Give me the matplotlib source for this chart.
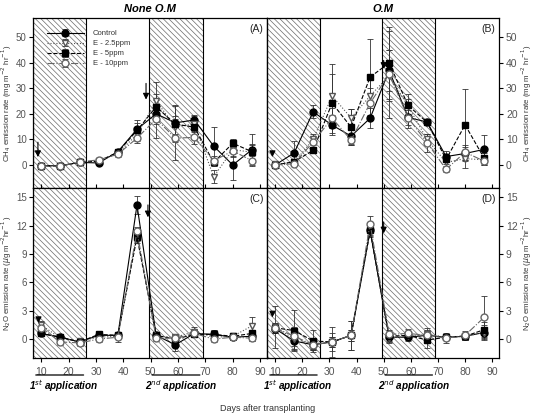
import numpy as np
import matplotlib
matplotlib.use('Agg')
import matplotlib.pyplot as plt

plt.rcParams['font.family'] = ['Liberation Sans', 'DejaVu Sans']
plt.rcParams['hatch.linewidth'] = 0.5

days = [10, 17, 24, 31, 38, 45, 52, 59, 66, 73, 80, 87]
labels = ['Control', 'E - 2.5ppm', 'E - 5ppm', 'E - 10ppm']

# CH4, none O.M (A)
ctrl_A = [-0.3, -0.3, 1.0, 0.8, 5.2, 14.0, 20.0, 16.5, 17.6, 7.4, 0.0, 6.0]
e25_A = [-0.2, -0.3, 1.2, 1.5, 4.5, 12.0, 25.0, 15.0, 16.0, -4.6, 6.0, 5.0]
e5_A = [-0.3, -0.4, 1.1, 1.5, 5.0, 13.5, 22.8, 16.0, 14.8, 1.0, 8.5, 5.2]
e10_A = [-0.5, -0.4, 1.2, 2.0, 4.2, 10.5, 18.0, 10.5, 10.8, 1.7, 5.5, 1.7]
ctrl_A_err = [0.3, 0.3, 0.5, 0.5, 1.0, 3.5, 4.0, 7.0, 2.0, 7.4, 6.0, 6.0]
e25_A_err = [0.3, 0.3, 0.5, 0.5, 1.0, 2.5, 7.5, 3.0, 3.0, 2.5, 3.0, 3.0]
e5_A_err = [0.3, 0.3, 0.5, 0.5, 1.0, 3.0, 5.0, 7.0, 3.0, 1.5, 1.5, 3.0]
e10_A_err = [0.3, 0.3, 0.5, 0.5, 1.0, 2.0, 7.5, 8.5, 2.5, 2.0, 2.0, 2.0]

# CH4, O.M (B)
ctrl_B = [0.0, 4.7, 20.8, 15.6, 11.3, 18.3, 37.0, 18.6, 16.8, 3.3, 4.5, 6.1]
e25_B = [0.2, 1.0, 10.0, 27.0, 18.4, 27.0, 35.0, 23.0, 10.0, 1.0, 2.5, 2.0]
e5_B = [0.0, 1.3, 5.7, 24.2, 14.8, 34.4, 39.9, 23.3, 16.7, 2.2, 15.7, 2.7]
e10_B = [0.0, 0.5, 9.0, 18.3, 9.7, 24.2, 35.5, 18.5, 8.7, -1.7, 5.0, 1.5]
ctrl_B_err = [0.5, 4.5, 2.5, 4.0, 3.0, 4.0, 8.0, 4.0, 1.0, 2.0, 2.5, 5.7]
e25_B_err = [0.5, 1.0, 2.0, 12.5, 3.5, 8.0, 10.0, 3.0, 2.0, 2.0, 3.5, 2.0]
e5_B_err = [0.5, 1.0, 1.0, 11.5, 7.0, 15.0, 14.0, 4.5, 1.0, 2.0, 14.0, 2.0]
e10_B_err = [0.5, 0.8, 2.0, 4.0, 2.0, 6.0, 17.0, 3.0, 3.5, 1.2, 3.0, 1.5]

# N2O, none O.M (C)
ctrl_C = [0.6, 0.2, -0.3, 0.4, 0.4, 14.2, 0.4, -0.6, 0.6, 0.5, 0.2, 0.3]
e25_C = [1.5, 0.1, -0.2, 0.2, 0.3, 11.0, 0.3, 0.2, 0.8, 0.2, 0.3, 1.4]
e5_C = [0.6, 0.2, -0.3, 0.5, 0.4, 10.8, 0.4, 0.0, 0.5, 0.5, 0.3, 0.6]
e10_C = [1.2, -0.3, -0.4, 0.0, 0.2, 11.4, 0.1, 0.1, 0.6, 0.0, 0.2, 0.1]
ctrl_C_err = [0.3, 0.3, 0.3, 0.3, 0.3, 0.9, 0.3, 0.7, 0.4, 0.5, 0.3, 0.5]
e25_C_err = [0.4, 0.3, 0.3, 0.3, 0.3, 0.6, 0.3, 0.3, 0.5, 0.3, 0.3, 0.9]
e5_C_err = [0.3, 0.3, 0.3, 0.3, 0.3, 0.6, 0.3, 0.3, 0.3, 0.5, 0.3, 0.4]
e10_C_err = [0.3, 0.3, 0.3, 0.3, 0.5, 0.5, 0.3, 0.3, 0.3, 0.3, 0.3, 0.3]

# N2O, O.M (D)
ctrl_D = [1.1, -0.2, -0.6, -0.3, 0.4, 11.5, 0.2, 0.2, 0.4, 0.2, 0.3, 0.7]
e25_D = [1.3, 0.0, -0.5, -0.3, 0.4, 11.4, 0.1, 0.3, 0.5, 0.2, 0.3, 0.7]
e5_D = [1.2, 0.9, -0.2, -0.3, 0.4, 11.5, 0.3, 0.4, -0.1, 0.2, 0.3, 1.0]
e10_D = [1.2, 0.3, -0.6, -0.3, 0.4, 12.2, 0.5, 0.6, 0.4, 0.1, 0.4, 2.3]
ctrl_D_err = [0.5, 1.0, 0.5, 0.5, 0.6, 0.6, 0.5, 0.4, 0.5, 0.3, 0.4, 0.6]
e25_D_err = [2.2, 1.0, 0.5, 0.5, 0.6, 0.6, 0.5, 0.4, 0.5, 0.3, 0.4, 0.8]
e5_D_err = [0.5, 2.2, 1.2, 1.0, 1.5, 0.5, 0.5, 0.4, 0.8, 0.3, 0.4, 0.8]
e10_D_err = [0.5, 1.0, 0.5, 1.6, 1.5, 0.8, 0.5, 0.5, 0.8, 0.5, 0.5, 2.3]

hatch_spans = [(7, 26.5), (49.5, 69)]
# application arrows: (day, y_start, y_end) per panel
arrows_A = [(8.8, 10, 2), (48.3, 33, 24.5)]
arrows_B = [(9.0, 6.5, 2), (50.0, 42, 36.5)]
arrows_C = [(9.0, 2.6, 1.4), (49.0, 14.5, 12.6)]
arrows_D = [(9.0, 3.1, 2.0), (50.0, 12.7, 10.9)]

styles = [
    dict(marker='o', mfc='black', mec='black', ls='-', color='black'),
    dict(marker='v', mfc='white', mec='#555555', ls=':', color='#555555'),
    dict(marker='s', mfc='black', mec='black', ls='--', color='black'),
    dict(marker='o', mfc='white', mec='#666666', ls='-.', color='#666666'),
]

fig = plt.figure(figsize=(5.36, 4.15), dpi=100)
W, H = 536, 415
def box(x0, y0, x1, y1):
    return [x0 / W, 1 - y1 / H, (x1 - x0) / W, (y1 - y0) / H]

axA = fig.add_axes(box(33, 18, 267, 188))
axB = fig.add_axes(box(267, 18, 499, 188))
axC = fig.add_axes(box(33, 188, 267, 358))
axD = fig.add_axes(box(267, 188, 499, 358))

panels = [
    (axA, [ctrl_A, e25_A, e5_A, e10_A], [ctrl_A_err, e25_A_err, e5_A_err, e10_A_err], arrows_A, '(A)'),
    (axB, [ctrl_B, e25_B, e5_B, e10_B], [ctrl_B_err, e25_B_err, e5_B_err, e10_B_err], arrows_B, '(B)'),
    (axC, [ctrl_C, e25_C, e5_C, e10_C], [ctrl_C_err, e25_C_err, e5_C_err, e10_C_err], arrows_C, '(C)'),
    (axD, [ctrl_D, e25_D, e5_D, e10_D], [ctrl_D_err, e25_D_err, e5_D_err, e10_D_err], arrows_D, '(D)'),
]

for ax, series, errs, arrows, tag in panels:
    for x0, x1 in hatch_spans:
        ax.axvspan(x0, x1, facecolor='none', edgecolor='#6a6a6a', hatch='\\' * 6, lw=0, zorder=0)
        ax.axvline(x0, color='black', lw=0.8, zorder=1)
        ax.axvline(x1, color='black', lw=0.8, zorder=1)
    for vals, err, st, lab in zip(series, errs, styles, labels):
        ax.errorbar(days, vals, yerr=err, marker=st['marker'], mfc=st['mfc'], mec=st['mec'],
                    ls=st['ls'], color=st['color'], ecolor='#333333', elinewidth=0.6,
                    capsize=2, capthick=0.6, lw=0.8, ms=5, label=lab, zorder=3)
    for d, y0, y1 in arrows:
        ax.annotate('', xy=(d, y1), xytext=(d, y0),
                    arrowprops=dict(arrowstyle='-|>', color='black', lw=0.8,
                                    mutation_scale=9), zorder=5)
    ax.text(0.985, 0.965, tag, transform=ax.transAxes, ha='right', va='top', fontsize=7.5, color='#222222')
    ax.set_xlim(7, 92.5)
    ax.set_xticks([10, 20, 30, 40, 50, 60, 70, 80, 90])
    for s in ax.spines.values():
        s.set_linewidth(0.9)

for ax in (axA, axB):
    ax.set_ylim(-9, 57.5)
    ax.set_yticks([0, 10, 20, 30, 40, 50])
    ax.tick_params(axis='x', direction='in', labelbottom=False, length=3)
for ax in (axC, axD):
    ax.set_ylim(-2, 16)
    ax.set_yticks([0, 3, 6, 9, 12, 15])
    ax.tick_params(axis='x', direction='out', length=3, labelsize=7.5, labelcolor='#555555')

for ax in (axA, axC):
    ax.tick_params(axis='y', direction='out', length=3, pad=1.5, labelsize=7, labelcolor='#555555')
for ax in (axB, axD):
    ax.yaxis.tick_right()
    ax.yaxis.set_label_position('right')
    ax.tick_params(axis='y', direction='out', length=3, pad=2, labelsize=7.5, labelcolor='#555555')

ylab_ch4 = r'CH$_4$ emission rate (mg m$^{-2}$ hr$^{-1}$)'
ylab_n2o = r'N$_2$O emission rate ($\mu$g m$^{-2}$hr$^{-1}$ )'
for ax, lab in ((axA, ylab_ch4), (axB, ylab_ch4), (axC, ylab_n2o), (axD, ylab_n2o)):
    ax.set_ylabel(lab, fontsize=5.6, color='#333333')
for ax in (axA, axC):
    ax.yaxis.set_label_coords(-0.082, 0.5)
for ax in (axB, axD):
    ax.yaxis.set_label_coords(1.09, 0.5)

axA.set_title('None O.M', fontsize=8, fontweight='bold', style='italic', pad=4)
axB.set_title('O.M', fontsize=8, fontweight='bold', style='italic', pad=4)

leg = axA.legend(loc='upper left', bbox_to_anchor=(0.03, 0.97), frameon=False, fontsize=5.5,
                 handlelength=4.8, handletextpad=1.2, labelspacing=0.35, labelcolor='#333333')

# application bars under the bottom panels
for ax in (axC, axD):
    for (x0, x1), txt in zip(hatch_spans, ['1$^{st}$ application', '2$^{nd}$ application']):
        ax.annotate('', xy=(x1, -0.1), xytext=(x0, -0.1), xycoords=('data', 'axes fraction'),
                    arrowprops=dict(arrowstyle='-', color='black', lw=0.9), annotation_clip=False)
        ax.text(x0 - 1.5, -0.165, txt, transform=ax.get_xaxis_transform(), ha='left', va='center',
                fontsize=7.2, fontweight='bold', style='italic', clip_on=False)

fig.text(0.5, 0.006, 'Days after transplanting', ha='center', va='bottom', fontsize=6.5, color='#333333')

fig.savefig('out.png', dpi=100)
